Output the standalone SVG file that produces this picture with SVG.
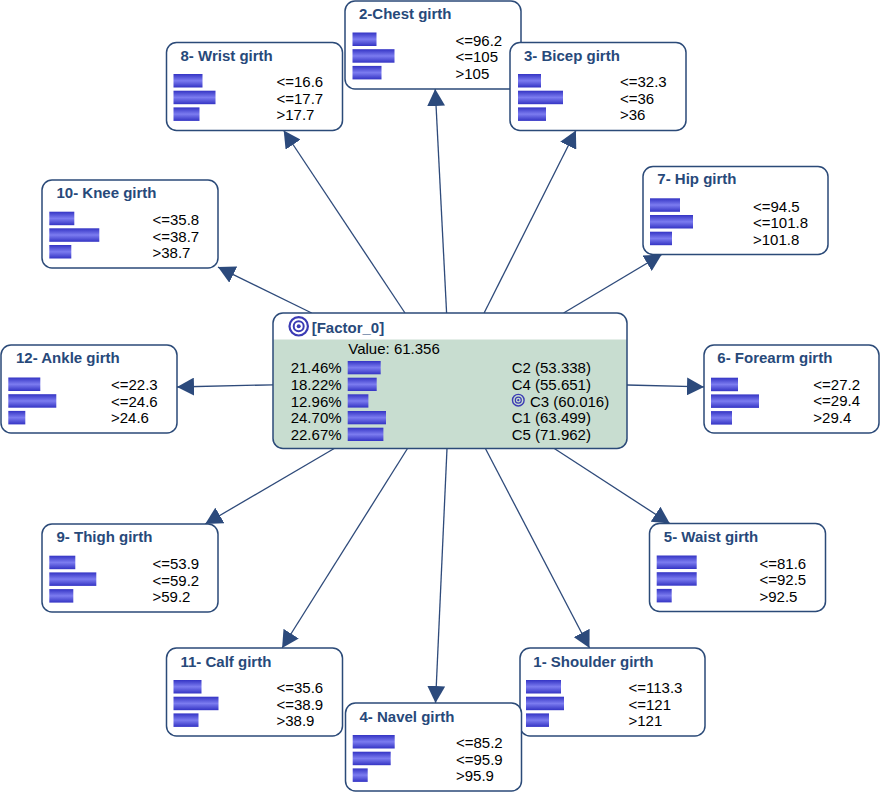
<svg xmlns="http://www.w3.org/2000/svg" width="880" height="793" viewBox="0 0 880 793">
<style>
.box{fill:#fff;stroke:#2b4a78;stroke-width:1.5}
.ttl{font-family:"Liberation Sans",Arial,sans-serif;font-size:15px;font-weight:bold;fill:#27497a}
.lbl{font-family:"Liberation Sans",Arial,sans-serif;font-size:15px;fill:#000}
.bar{fill:url(#bg)}
.con{stroke:#2e4a7a;stroke-width:1.3;fill:none;marker-end:url(#ah)}
</style>
<defs>
<linearGradient id="bg" x1="0" y1="0" x2="0" y2="1">
<stop offset="0" stop-color="#3434c4"/>
<stop offset="0.5" stop-color="#7c7cf0"/>
<stop offset="1" stop-color="#3434c4"/>
</linearGradient>
<marker id="ah" markerUnits="userSpaceOnUse" markerWidth="18" markerHeight="18" refX="17" refY="9" orient="auto">
<path d="M0,0 L17,9 L0,18 Z" fill="#2c4a7c"/>
</marker>
</defs>
<g id="connectors">
<line class="con" x1="446.6" y1="313" x2="435.2" y2="89"/>
<line class="con" x1="405" y1="313" x2="283.7" y2="130.5"/>
<line class="con" x1="484.1" y1="313" x2="575.9" y2="130.5"/>
<line class="con" x1="311.7" y1="313" x2="218" y2="267.1"/>
<line class="con" x1="563.6" y1="313" x2="661.7" y2="254.5"/>
<line class="con" x1="273" y1="384.8" x2="177" y2="387"/>
<line class="con" x1="627" y1="385" x2="704" y2="386.9"/>
<line class="con" x1="334.2" y1="448.5" x2="205.2" y2="524"/>
<line class="con" x1="407.5" y1="448.5" x2="282.1" y2="648"/>
<line class="con" x1="447" y1="448.5" x2="435.5" y2="703"/>
<line class="con" x1="485.4" y1="448.5" x2="589.5" y2="648"/>
<line class="con" x1="554.3" y1="448.5" x2="669.8" y2="523.5"/>
</g>
<g id="factor0">
<rect x="273" y="313" width="354" height="135.5" rx="10" fill="#c8ddd0"/>
<path d="M273,339.5 V323 A10,10 0 0 1 283,313 H617 A10,10 0 0 1 627,323 V339.5 Z" fill="#fff"/>
<rect x="273" y="313" width="354" height="135.5" rx="10" fill="none" stroke="#2b4a78" stroke-width="1.5"/>
<circle cx="298.7" cy="326.3" r="9.2" fill="none" stroke="#3b3bb4" stroke-width="2.2"/>
<circle cx="298.7" cy="326.3" r="5" fill="none" stroke="#3b3bb4" stroke-width="2"/>
<circle cx="298.7" cy="326.3" r="2" fill="#3b3bb4"/>
<text class="ttl" x="311.7" y="332.5">[Factor_0]</text>
<text class="lbl" x="348.3" y="354">Value: 61.356</text>
<text class="lbl" x="290.7" y="373.3">21.46%</text>
<text class="lbl" x="290.7" y="390">18.22%</text>
<text class="lbl" x="290.7" y="406.7">12.96%</text>
<text class="lbl" x="290.7" y="423.3">24.70%</text>
<text class="lbl" x="290.7" y="440">22.67%</text>
<rect class="bar" x="347.7" y="361" width="33" height="13.3"/>
<rect class="bar" x="347.7" y="377.7" width="29" height="13.3"/>
<rect class="bar" x="347.7" y="394.3" width="20.7" height="13.3"/>
<rect class="bar" x="347.7" y="411" width="38.3" height="13.3"/>
<rect class="bar" x="347.7" y="427.7" width="35.7" height="13.3"/>
<text class="lbl" x="511.7" y="373.3">C2 (53.338)</text>
<text class="lbl" x="511.7" y="390">C4 (55.651)</text>
<circle cx="518.3" cy="400.2" r="5.8" fill="none" stroke="#3b3bb4" stroke-width="1.4"/>
<circle cx="518.3" cy="400.2" r="3" fill="none" stroke="#3b3bb4" stroke-width="1.2"/>
<circle cx="518.3" cy="400.2" r="1.1" fill="#3b3bb4"/>
<text class="lbl" x="530" y="406.7">C3 (60.016)</text>
<text class="lbl" x="511.7" y="423.3">C1 (63.499)</text>
<text class="lbl" x="511.7" y="440">C5 (71.962)</text>
</g>
<g id="n2" transform="translate(345,1)">
<rect class="box" width="176" height="88" rx="10"/>
<text class="ttl" x="14" y="17.5">2-Chest girth</text>
<rect class="bar" x="7.5" y="31.5" width="24" height="13.5"/>
<rect class="bar" x="7.5" y="48.2" width="42" height="13.5"/>
<rect class="bar" x="7.5" y="64.9" width="29" height="13.5"/>
<text class="lbl" x="110.5" y="44.5">&lt;=96.2</text>
<text class="lbl" x="110.5" y="61.2">&lt;=105</text>
<text class="lbl" x="110.5" y="77.9">&gt;105</text>
</g>
<g id="n8" transform="translate(166.5,42.5)">
<rect class="box" width="176" height="88" rx="10"/>
<text class="ttl" x="14" y="18">8- Wrist girth</text>
<rect class="bar" x="7" y="31.5" width="29" height="13.5"/>
<rect class="bar" x="7" y="48.2" width="42" height="13.5"/>
<rect class="bar" x="7" y="64.9" width="26" height="13.5"/>
<text class="lbl" x="110" y="44.5">&lt;=16.6</text>
<text class="lbl" x="110" y="61.2">&lt;=17.7</text>
<text class="lbl" x="110" y="77.9">&gt;17.7</text>
</g>
<g id="n3" transform="translate(510,42.5)">
<rect class="box" width="176" height="88" rx="10"/>
<text class="ttl" x="14" y="18">3- Bicep girth</text>
<rect class="bar" x="8" y="31.5" width="23" height="13.5"/>
<rect class="bar" x="8" y="48.2" width="45" height="13.5"/>
<rect class="bar" x="8" y="64.9" width="28" height="13.5"/>
<text class="lbl" x="110" y="44.5">&lt;=32.3</text>
<text class="lbl" x="110" y="61.2">&lt;=36</text>
<text class="lbl" x="110" y="77.9">&gt;36</text>
</g>
<g id="n10" transform="translate(42,180)">
<rect class="box" width="176" height="88" rx="10"/>
<text class="ttl" x="14.5" y="18">10- Knee girth</text>
<rect class="bar" x="7.3" y="31.7" width="25" height="13.5"/>
<rect class="bar" x="7.3" y="48.3" width="50" height="13.5"/>
<rect class="bar" x="7.3" y="65" width="22" height="13.5"/>
<text class="lbl" x="110.5" y="45">&lt;=35.8</text>
<text class="lbl" x="110.5" y="61.7">&lt;=38.7</text>
<text class="lbl" x="110.5" y="78.3">&gt;38.7</text>
</g>
<g id="n7" transform="translate(643,166.5)">
<rect class="box" width="185" height="88" rx="10"/>
<text class="ttl" x="14.3" y="17.5">7- Hip girth</text>
<rect class="bar" x="7" y="31.8" width="30" height="13.5"/>
<rect class="bar" x="7" y="48.5" width="43" height="13.5"/>
<rect class="bar" x="7" y="65.2" width="22" height="13.5"/>
<text class="lbl" x="110" y="45">&lt;=94.5</text>
<text class="lbl" x="110" y="61.7">&lt;=101.8</text>
<text class="lbl" x="110" y="78.3">&gt;101.8</text>
</g>
<g id="n12" transform="translate(1,345)">
<rect class="box" width="176" height="88" rx="10"/>
<text class="ttl" x="15" y="18">12- Ankle girth</text>
<rect class="bar" x="7.3" y="32.5" width="32" height="13.5"/>
<rect class="bar" x="7.3" y="49.2" width="48" height="13.5"/>
<rect class="bar" x="7.3" y="65.9" width="17" height="13.5"/>
<text class="lbl" x="110" y="45">&lt;=22.3</text>
<text class="lbl" x="110" y="61.7">&lt;=24.6</text>
<text class="lbl" x="110" y="78.3">&gt;24.6</text>
</g>
<g id="n6" transform="translate(704,345)">
<rect class="box" width="175" height="88" rx="10"/>
<text class="ttl" x="13.3" y="18.3">6- Forearm girth</text>
<rect class="bar" x="7" y="32.7" width="27" height="13.5"/>
<rect class="bar" x="7" y="49.4" width="48" height="13.5"/>
<rect class="bar" x="7" y="66.1" width="21" height="13.5"/>
<text class="lbl" x="109.3" y="44.5">&lt;=27.2</text>
<text class="lbl" x="109.3" y="61.2">&lt;=29.4</text>
<text class="lbl" x="109.3" y="77.9">&gt;29.4</text>
</g>
<g id="n9" transform="translate(42,524)">
<rect class="box" width="176" height="88" rx="10"/>
<text class="ttl" x="14.5" y="18">9- Thigh girth</text>
<rect class="bar" x="7.3" y="31.7" width="26" height="13.5"/>
<rect class="bar" x="7.3" y="48.4" width="47" height="13.5"/>
<rect class="bar" x="7.3" y="65.1" width="24" height="13.5"/>
<text class="lbl" x="110.5" y="45">&lt;=53.9</text>
<text class="lbl" x="110.5" y="61.7">&lt;=59.2</text>
<text class="lbl" x="110.5" y="78.3">&gt;59.2</text>
</g>
<g id="n5" transform="translate(649.5,523.5)">
<rect class="box" width="176" height="88" rx="10"/>
<text class="ttl" x="14.3" y="18.5">5- Waist girth</text>
<rect class="bar" x="7.2" y="32" width="40" height="13.5"/>
<rect class="bar" x="7.2" y="48.7" width="40" height="13.5"/>
<rect class="bar" x="7.2" y="65.4" width="15" height="13.5"/>
<text class="lbl" x="110" y="45">&lt;=81.6</text>
<text class="lbl" x="110" y="61.7">&lt;=92.5</text>
<text class="lbl" x="110" y="78.3">&gt;92.5</text>
</g>
<g id="n11" transform="translate(166.5,648)">
<rect class="box" width="176" height="88" rx="10"/>
<text class="ttl" x="14" y="18.5">11- Calf girth</text>
<rect class="bar" x="7" y="32" width="28" height="13.5"/>
<rect class="bar" x="7" y="48.7" width="45" height="13.5"/>
<rect class="bar" x="7" y="65.4" width="25" height="13.5"/>
<text class="lbl" x="110" y="45">&lt;=35.6</text>
<text class="lbl" x="110" y="61.7">&lt;=38.9</text>
<text class="lbl" x="110" y="78.3">&gt;38.9</text>
</g>
<g id="n1" transform="translate(520,648)">
<rect class="box" width="185" height="88" rx="10"/>
<text class="ttl" x="13.3" y="18.5">1- Shoulder girth</text>
<rect class="bar" x="6" y="32" width="35" height="13.5"/>
<rect class="bar" x="6" y="48.7" width="38" height="13.5"/>
<rect class="bar" x="6" y="65.4" width="23" height="13.5"/>
<text class="lbl" x="108.5" y="45">&lt;=113.3</text>
<text class="lbl" x="108.5" y="61.7">&lt;=121</text>
<text class="lbl" x="108.5" y="78.3">&gt;121</text>
</g>
<g id="n4" transform="translate(345.5,703)">
<rect class="box" width="176" height="88" rx="10"/>
<text class="ttl" x="14" y="18.5">4- Navel girth</text>
<rect class="bar" x="7.2" y="32" width="42" height="13.5"/>
<rect class="bar" x="7.2" y="48.7" width="38" height="13.5"/>
<rect class="bar" x="7.2" y="65.4" width="15" height="13.5"/>
<text class="lbl" x="110.5" y="45">&lt;=85.2</text>
<text class="lbl" x="110.5" y="61.7">&lt;=95.9</text>
<text class="lbl" x="110.5" y="78.3">&gt;95.9</text>
</g>
</svg>
